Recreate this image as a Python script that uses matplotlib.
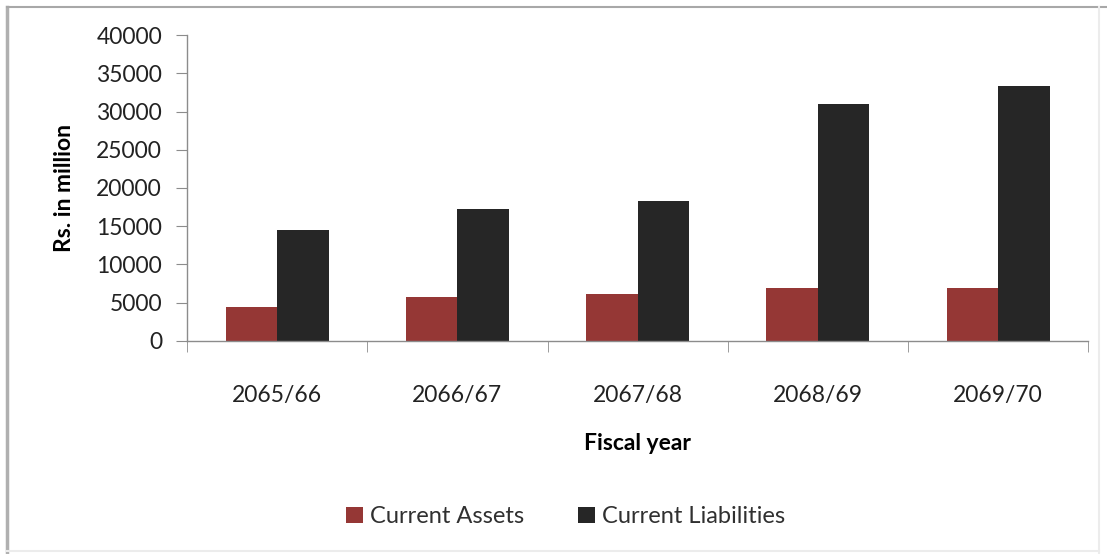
import matplotlib.pyplot as plt
import numpy as np
from matplotlib.lines import Line2D

# Current assets vs current liabilities by fiscal year (Rs. in million)
years = ["2065/66", "2066/67", "2067/68", "2068/69", "2069/70"]
current_assets = [4450, 5750, 6100, 6980, 6980]
current_liabilities = [14550, 17250, 18300, 30950, 33350]

plt.rcParams['font.family'] = ['Lato', 'DejaVu Sans']

fig = plt.figure(figsize=(11.07, 5.54), dpi=100)
ax = fig.add_axes([0.169, 0.3845, 0.814, 0.5523])

x = np.arange(len(years))
w = 0.286
ax.bar(x - w / 2, current_assets, w, color="#953735", label="Current Assets")
ax.bar(x + w / 2, current_liabilities, w, color="#262626", label="Current Liabilities")

ax.set_xlim(-0.5, len(years) - 0.5)
ax.set_ylim(0, 40000)
ax.set_yticks(range(0, 40001, 5000))
ax.set_xticks(x)
ax.set_xticklabels(years)
ax.set_xticks(np.arange(-0.5, len(years)), minor=True)

for s in ["top", "right"]:
    ax.spines[s].set_visible(False)
for s in ["left", "bottom"]:
    ax.spines[s].set_color("#8c8c8c")
    ax.spines[s].set_linewidth(1.0)

ax.tick_params(axis="y", length=8, color="#8c8c8c", labelsize=16.5, labelcolor="#222222", pad=10)
ax.tick_params(axis="x", which="major", length=0, labelsize=16.5, labelcolor="#222222", pad=32)
ax.tick_params(axis="x", which="minor", length=8, color="#8c8c8c")

ax.set_ylabel("Rs. in million", fontsize=16.5, fontweight="bold", labelpad=15)
ax.set_xlabel("Fiscal year", fontsize=16.5, fontweight="bold", labelpad=19)

fig.legend(loc="center", bbox_to_anchor=(0.511, 0.067), ncol=2, frameon=False,
           fontsize=17, handlelength=0.7, handleheight=0.7,
           handletextpad=0.3, columnspacing=2.3, labelcolor="#303030")

# chart area border: darker on the left and top, faint on the right and bottom
t = fig.transFigure
fig.add_artist(Line2D([0.0065, 0.0065], [0.0, 0.988], transform=t, color="#b0b0b0", lw=2.5))
fig.add_artist(Line2D([0.0065, 1.0], [0.988, 0.988], transform=t, color="#a8a8a8", lw=1.5))
fig.add_artist(Line2D([0.9925, 0.9925], [0.0, 0.988], transform=t, color="#ececec", lw=1.5))
fig.add_artist(Line2D([0.0065, 0.9925], [0.006, 0.006], transform=t, color="#ececec", lw=1.5))

fig.savefig("out.png", dpi=100)
